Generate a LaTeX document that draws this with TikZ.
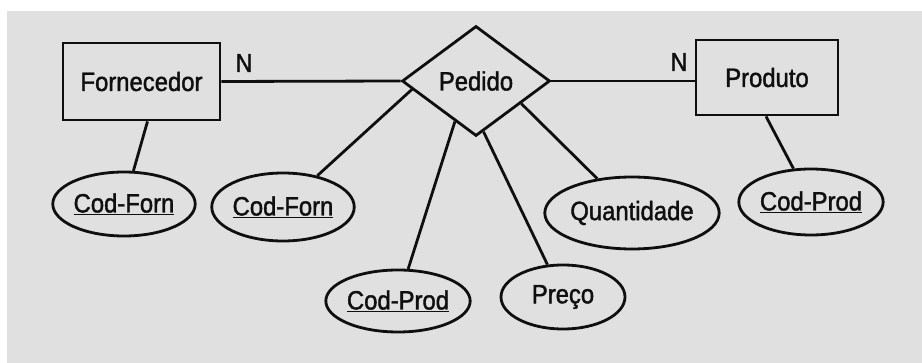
\documentclass[tikz,border=0pt]{standalone}
\usepackage{fontspec}
\setmainfont{Liberation Sans}
\newfontfamily\diafont{Liberation Sans}[FakeBold=1.5, FakeStretch=0.9]
\usetikzlibrary{shapes.geometric,calc}
\definecolor{bggray}{RGB}{224,224,224}
\definecolor{ink}{RGB}{15,15,15}
\begin{document}
\begin{tikzpicture}[x=1pt,y=-1pt,
  every node/.style={font=\diafont\fontsize{26.5}{28}\selectfont, text=ink},
  ent/.style={draw=ink, line width=2.8pt, rectangle, inner sep=0pt},
  rel/.style={draw=ink, line width=2.8pt, diamond, inner sep=0pt, minimum width=148pt, minimum height=110pt},
  attr/.style={draw=ink, line width=2.8pt, ellipse, inner sep=0pt},
  conn/.style={draw=ink, line width=2.8pt},
  card/.style={font=\diafont\fontsize{26}{28}\selectfont}]
\useasboundingbox (0,0) rectangle (922,363);
\fill[white] (0,0) rectangle (922,363);
\fill[bggray] (7,11) rectangle (922,363);

\node[ent, minimum width=157pt, minimum height=77pt] (forn) at (141.5,81.5) {Fornecedor};
\node[rel] (ped) at (476,81) {Pedido};
\node[ent, minimum width=142pt, minimum height=75pt] (prod) at (767,77.5) {Produto};

\node[attr, minimum width=138pt, minimum height=64pt] (cf1) at (124,204) {\underline{Cod-Forn}};
\node[attr, minimum width=132pt, minimum height=68pt] (cf2) at (283,207) {\underline{Cod-Forn}};
\node[attr, minimum width=126pt, minimum height=62pt] (cp1) at (398,301) {\underline{Cod-Prod}};
\node[attr, minimum width=124pt, minimum height=64pt] (pre) at (563,297) {Preço};
\node[attr, minimum width=138pt, minimum height=72pt] (qty) at (632,213) {Quantidade};
\node[attr, minimum width=124pt, minimum height=66pt] (cp2) at (811,202) {\underline{Cod-Prod}};

\node[card] (n1) at (244,63) {N};
\node[card] (n2) at (679,62) {N};

\draw[conn] (forn.east) -- (ped.west);
\draw[conn] (ped.east) -- (ped.east -| prod.west);
\draw[conn] ($(forn.south)+(6,0)$) -- (cf1);
\draw[conn] ($(prod.south)+(-1,0)$) -- (cp2);
\draw[conn] ($(ped.west)!0.15!(ped.south)$) -- (cf2);
\draw[conn] ($(ped.west)!0.72!(ped.south)$) -- (cp1);
\draw[conn] ($(ped.south)!0.1!(ped.east)$) -- (pre);
\draw[conn] ($(ped.south)!0.6!(ped.east)$) -- (qty);
\end{tikzpicture}
\end{document}
